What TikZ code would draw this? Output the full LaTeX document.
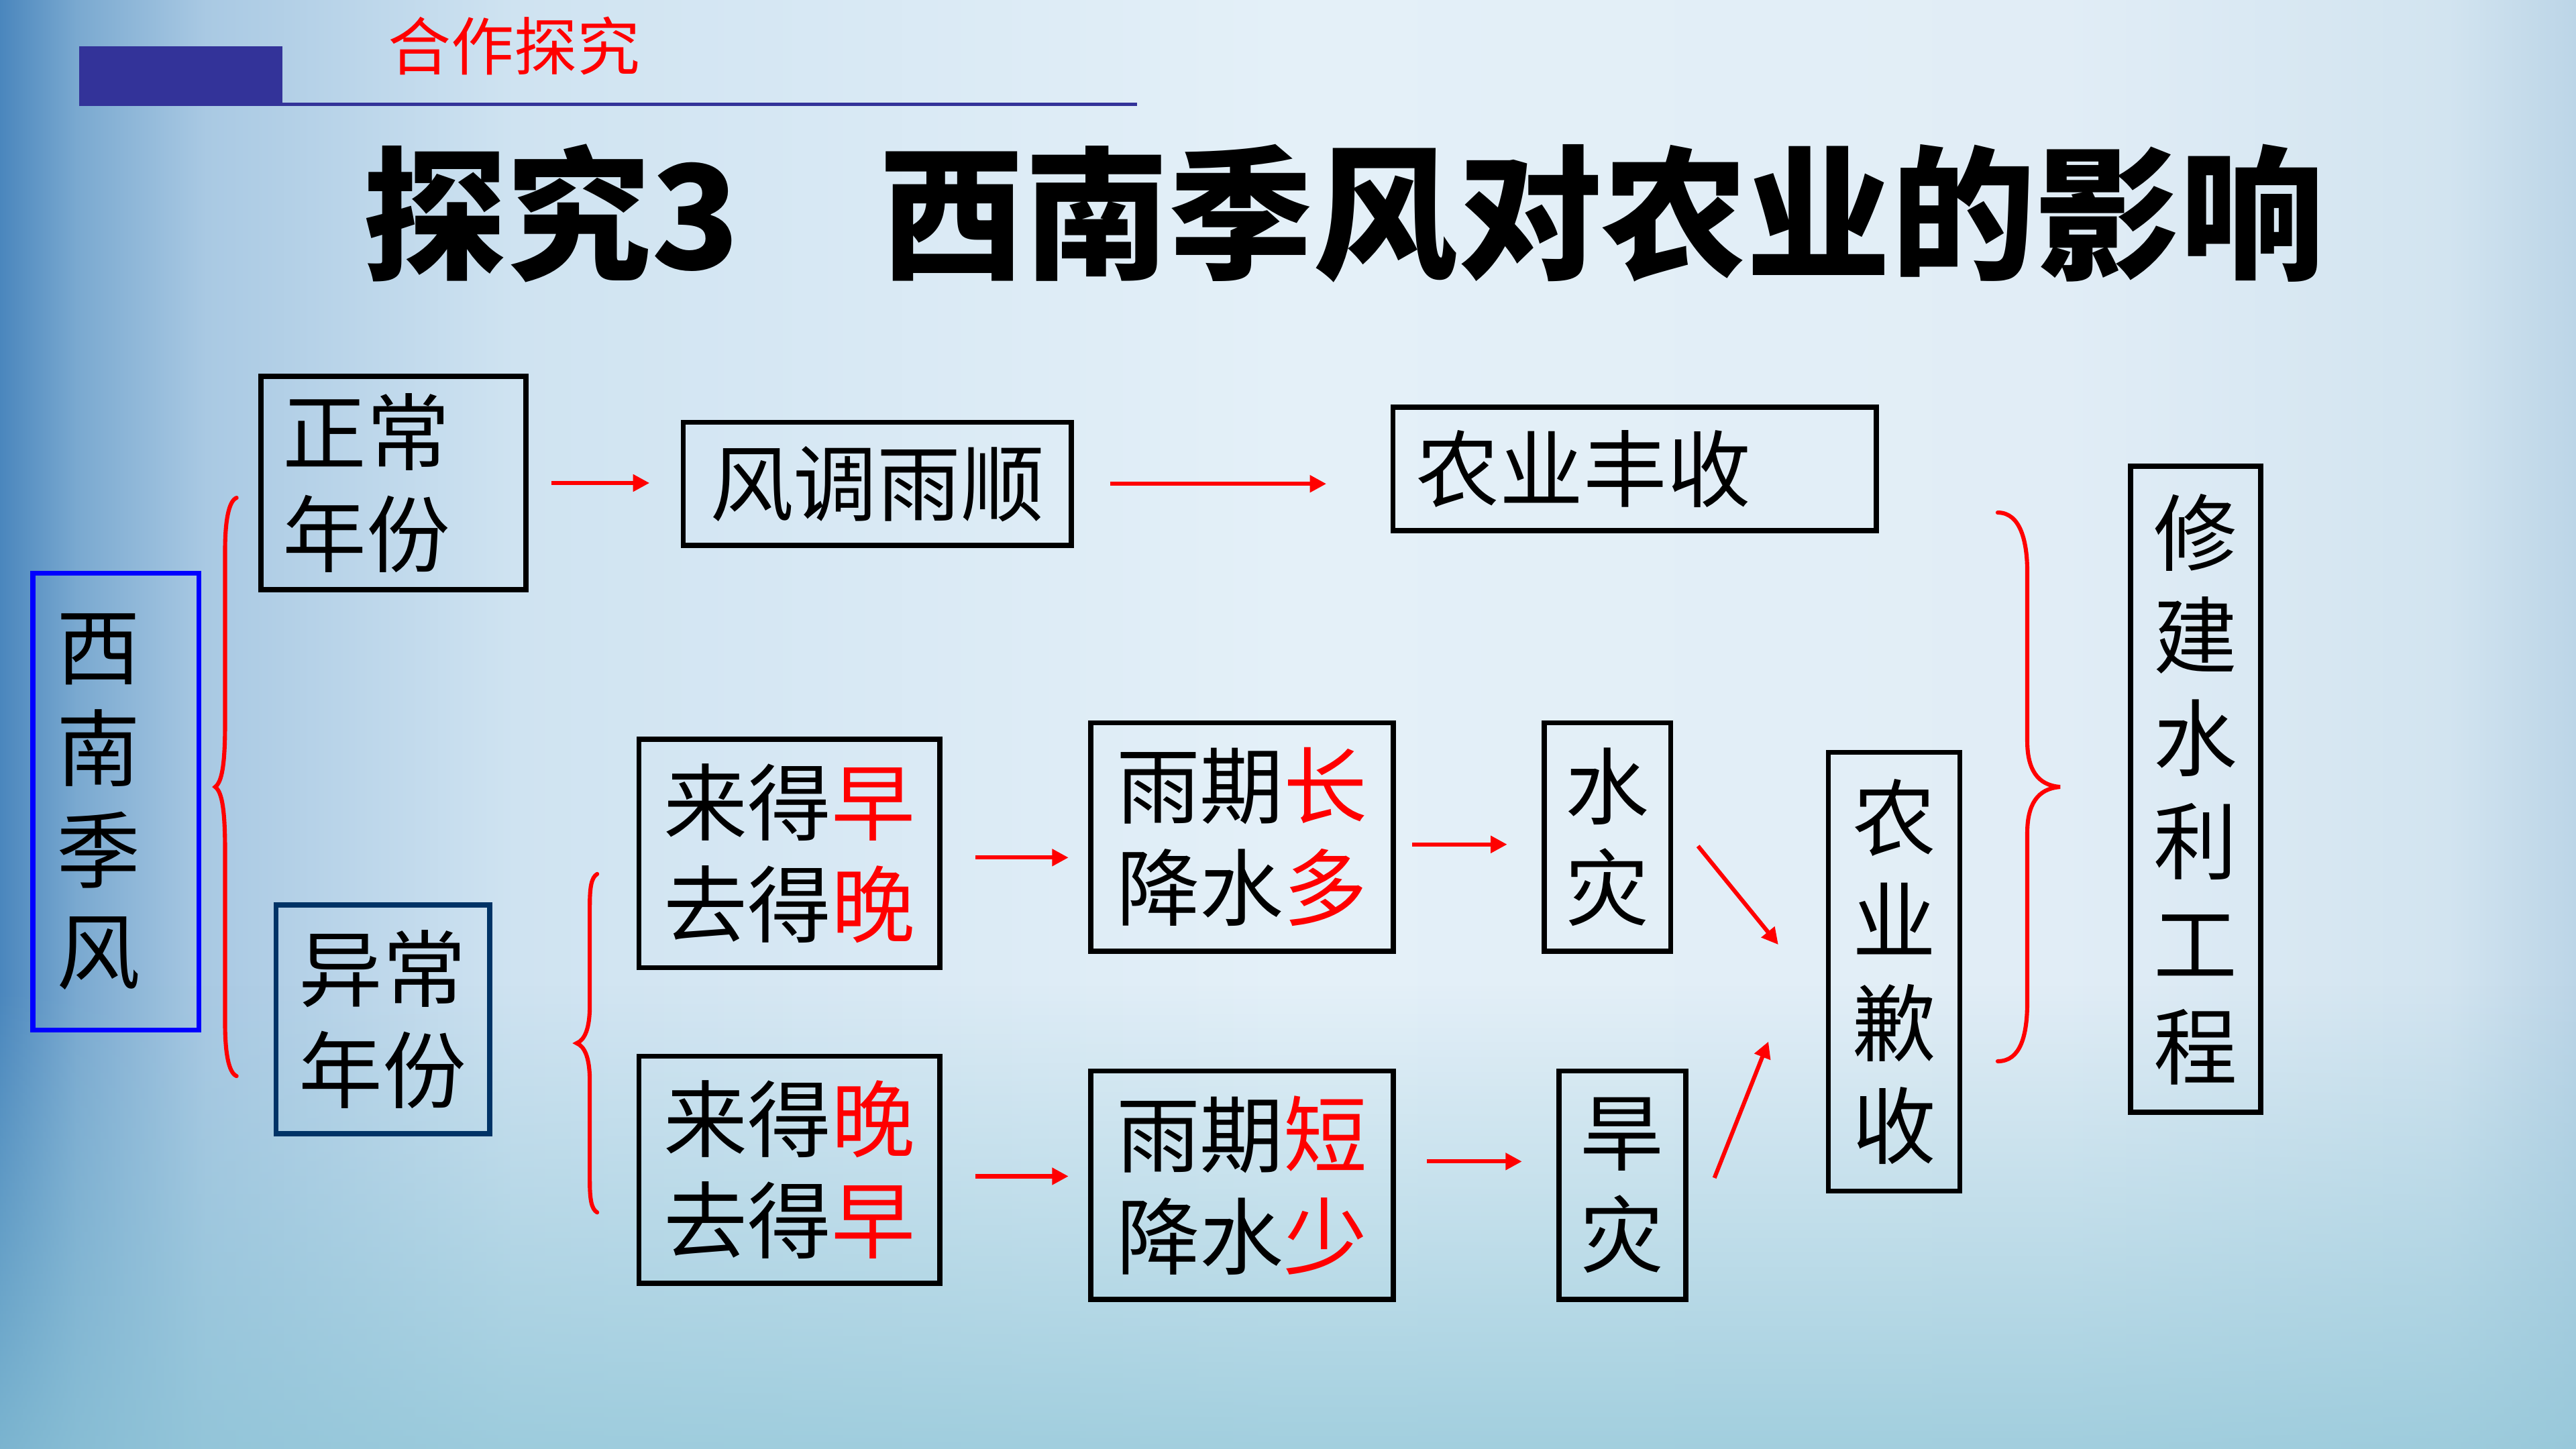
\documentclass[tikz,border=0pt]{standalone}
\usepackage{fontspec}
\setmainfont{Noto Sans CJK SC}
\usetikzlibrary{arrows.meta,calc,fadings}
\definecolor{barblue}{RGB}{51,51,153}
\definecolor{navy}{RGB}{0,51,102}
\definecolor{pureblue}{RGB}{0,0,255}
\definecolor{pred}{RGB}{255,0,0}
\definecolor{bgteal}{RGB}{140,196,214}
\definecolor{c0}{RGB}{74,134,189}
\definecolor{c1}{RGB}{122,169,208}
\definecolor{c2}{RGB}{169,201,227}
\definecolor{c3}{RGB}{207,227,241}
\definecolor{c4}{RGB}{228,240,248}
\definecolor{c5}{RGB}{225,237,246}
\definecolor{c6}{RGB}{210,228,240}
\definecolor{c7}{RGB}{188,213,231}
\pgfdeclarehorizontalshading{bgh}{100bp}{color(0bp)=(c0); color(25bp)=(c0); color(26.5bp)=(c1); color(29bp)=(c2); color(35bp)=(c3); color(50bp)=(c4); color(65bp)=(c5); color(72.5bp)=(c6); color(75bp)=(c7); color(100bp)=(c7)}
\newcommand\hlr[1]{\textcolor{pred}{#1}}
\newcommand\bodyfont{\fontsize{14.5}{17.6}\selectfont}
\begin{document}
\begin{tikzpicture}[x=0.01cm,y=-0.01cm,
  box/.style={draw=black, line width=0.031cm, inner sep=0pt, align=center, font=\bodyfont},
  arr/.style={draw=pred, line width=0.025cm, -{Triangle[length=0.1cm,width=0.1cm]}},
  brc/.style={draw=pred, line width=0.025cm, line cap=round}]
\useasboundingbox (0,0) rectangle (1568,882);
\shade[shading=bgh] (0,0) rectangle (1568,882);
\fill[bgteal, opacity=0.75, path fading=north] (0,600) rectangle (1568,882);

% header
\fill[barblue] (48,28) rectangle (172,64);
\draw[barblue, line width=0.022cm] (48,63.5) -- (692,63.5);
\node[text=pred, font=\fontsize{10.9}{12}\selectfont, inner sep=0pt] (hdr) at (313,28) {合作探究};
\node[anchor=west, font=\fontsize{25}{28}\bfseries\selectfont, inner sep=0pt] (t1) at (220,130) {探究3};
\node[anchor=west, font=\fontsize{25}{28}\bfseries\selectfont, inner sep=0pt] (t2) at (535,130) {西南季风对农业的影响};

% nodes
\node[box, draw=pureblue, minimum width=1.01cm, minimum height=2.78cm, text width=0.72cm, inner xsep=0.145cm, align=left] (xn) at (70.5,488) {西\\南\\季\\风};
\node[box, minimum width=1.61cm, minimum height=1.30cm, text width=1.35cm, inner xsep=0.13cm, align=left] (zc) at (239.5,294) {正常\\年份};
\node[box, draw=navy, minimum width=1.30cm, minimum height=1.39cm] (yc) at (233,620.5) {异常\\年份};
\node[box, minimum width=2.36cm, minimum height=0.75cm] (ft) at (534,294.5) {风调雨顺};
\node[box, minimum width=2.94cm, minimum height=0.75cm, text width=2.66cm, inner xsep=0.14cm, align=left] (fs) at (995,285.5) {农业丰收};
\node[box, minimum width=1.83cm, minimum height=1.39cm] (lz) at (480.5,519.5) {来得\hlr{早}\\去得\hlr{晚}};
\node[box, minimum width=1.83cm, minimum height=1.38cm] (lw) at (480.5,712) {来得\hlr{晚}\\去得\hlr{早}};
\node[box, minimum width=1.84cm, minimum height=1.39cm] (yqc) at (756,509.5) {雨期\hlr{长}\\降水\hlr{多}};
\node[box, minimum width=1.84cm, minimum height=1.39cm] (yqd) at (756,721.5) {雨期\hlr{短}\\降水\hlr{少}};
\node[box, minimum width=0.77cm, minimum height=1.39cm] (sz) at (978.5,509.5) {水\\灾};
\node[box, minimum width=0.77cm, minimum height=1.39cm] (hz) at (987.5,721.5) {旱\\灾};
\node[box, minimum width=0.80cm, minimum height=2.67cm, font=\fontsize{14.5}{17.75}\selectfont] (nq) at (1153,591.5) {农\\业\\歉\\收};
\node[box, minimum width=0.79cm, minimum height=3.93cm, font=\fontsize{14.5}{17.8}\selectfont] (xj) at (1336.5,480.5) {修\\建\\水\\利\\工\\程};

% arrows
\draw[arr, shorten <=0.14cm, shorten >=0.19cm] (zc.east) -- (zc.east -| ft.west);
\draw[arr, shorten <=0.22cm, shorten >=0.39cm] (ft.east) -- (ft.east -| fs.west);
\draw[arr, shorten <=0.20cm, shorten >=0.12cm] ([yshift=-0.025cm]lz.east) -- ([yshift=-0.025cm]lz.east -| yqc.west);
\draw[arr, shorten <=0.20cm, shorten >=0.12cm] ([yshift=-0.04cm]lw.east) -- ([yshift=-0.04cm]lw.east -| yqd.west);
\draw[arr, shorten <=0.10cm, shorten >=0.21cm] ([yshift=-0.045cm]yqc.east) -- ([yshift=-0.045cm]sz.west);
\draw[arr, shorten <=0.19cm, shorten >=0.21cm] ([yshift=0.145cm]yqd.east) -- ([yshift=0.145cm]hz.west);
\draw[arr] ($(sz.east)+(15,5.5)$) -- ($(nq.west)+(-29,-16.5)$);
\draw[arr] ($(hz.east)+(16,-4.5)$) -- ($(nq.west)+(-35,42.5)$);

% braces
\draw[brc] (144,303) .. controls (139,305) and (137,318) .. (137,335) -- (137,440)
  .. controls (137,466) and (135,476) .. (131,479)
  .. controls (135,482) and (137,492) .. (137,518) -- (137,623)
  .. controls (137,640) and (139,653) .. (144,655);
\draw[brc] (363.5,532) .. controls (360,534) and (359,540) .. (359,551) -- (359,612)
  .. controls (359,626) and (356,633) .. (351,635)
  .. controls (356,637) and (359,644) .. (359,658) -- (359,719)
  .. controls (359,730) and (360,736) .. (363.5,738);
\draw[brc] (1216,312) .. controls (1230,312) and (1234,330) .. (1234,348) -- (1234,451)
  .. controls (1234,468) and (1240,478) .. (1254,479)
  .. controls (1240,480) and (1234,490) .. (1234,507) -- (1234,610)
  .. controls (1234,630) and (1230,646) .. (1216,646);
\end{tikzpicture}
\end{document}
